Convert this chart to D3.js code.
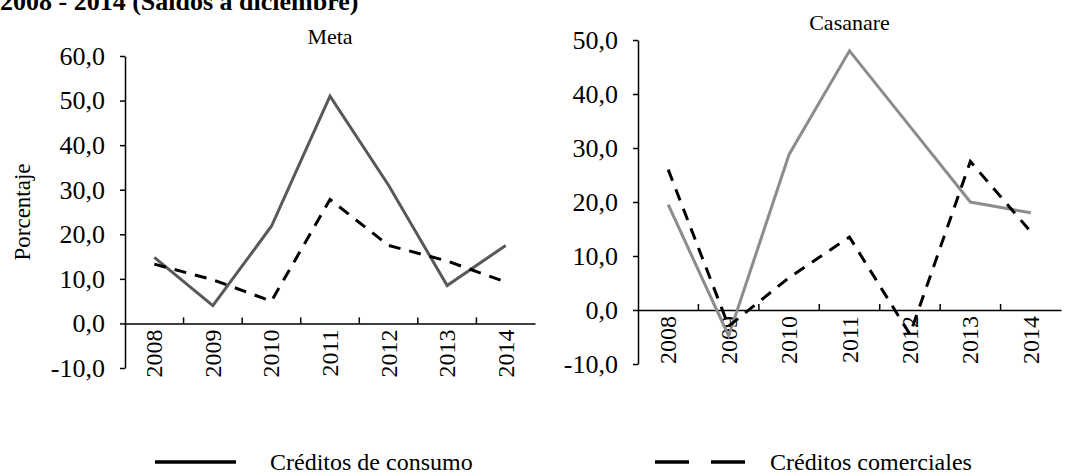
<!DOCTYPE html>
<html><head><meta charset="utf-8">
<script src="https://cdn.jsdelivr.net/npm/d3@7"></script>
<style>body{margin:0;background:#fff}svg text{font-family:"Liberation Serif","Times New Roman",serif !important;fill:#000}</style>
</head><body><svg id="c" width="1067" height="476"></svg>
<script>
const years = ["2008","2009","2010","2011","2012","2013","2014"];
const metaConsumo = [14.8, 4.0, 21.8, 51.0, 31.0, 8.5, 17.5];
const metaComercial = [13.3, 9.8, 5.0, 27.8, 17.5, 14.0, 9.3];
const casConsumo = [19.5, -4.8, 28.8, 48.0, 34.0, 20.0, 18.0];
const casComercial = [26.0, -3.0, 6.0, 13.5, -4.5, 27.5, 14.5];
const metaTicks = [-10, 0, 10, 20, 30, 40, 50, 60];
const casTicks = [-10, 0, 10, 20, 30, 40, 50];

const svg = d3.select("#c");
const fmt = d => d3.format(".1f")(d).replace(".", ",").replace("−", "-");

svg.append("text").attr("x", 0).attr("y", 10).style("font-size", "26px").style("font-weight", "bold")
  .text("2008 - 2014 (Saldos a diciembre)");

function panel(title, x0, x1, yTop, yBot, ticks, cons, comm, consColor, titleY) {
  const x = d3.scaleBand().domain(years).range([x0, x1]);
  const y = d3.scaleLinear().domain([ticks[0], ticks[ticks.length - 1]]).range([yBot, yTop]);
  const ya = svg.append("g").attr("transform", `translate(${x0},0)`)
    .call(d3.axisLeft(y).tickValues(ticks).tickFormat(fmt).tickSize(5).tickSizeOuter(0));
  ya.attr("font-family", null).attr("font-size", null);
  ya.select(".domain").attr("stroke", "#000").attr("stroke-width", 1.5);
  ya.selectAll(".tick line").attr("stroke", "#000").attr("stroke-width", 1.5);
  ya.selectAll(".tick text").style("font-size", "26px").attr("x", -20);
  const xa = svg.append("g").attr("transform", `translate(0,${y(0)})`)
    .call(d3.axisTop(x).tickSize(0).tickSizeOuter(0));
  xa.select(".domain").attr("stroke", "#000").attr("stroke-width", 1.5);
  xa.selectAll(".tick").remove();
  svg.append("g").selectAll("line").data(years.slice(1)).join("line")
    .attr("x1", d => x(d)).attr("x2", d => x(d)).attr("y1", y(0)).attr("y2", y(0) - 6)
    .attr("stroke", "#000").attr("stroke-width", 1.5);
  svg.append("g").selectAll("text").data(years).join("text")
    .attr("transform", d => `translate(${x(d) + x.bandwidth() / 2 + 8},${y(0) + 6}) rotate(-90)`)
    .attr("text-anchor", "end").style("font-size", "24px").text(d => d);
  const line = d3.line().x((d, i) => x(years[i]) + x.bandwidth() / 2).y(d => y(d));
  svg.append("path").datum(cons).attr("d", line).attr("fill", "none")
    .attr("stroke", consColor).attr("stroke-width", 3);
  svg.append("path").datum(comm).attr("d", line).attr("fill", "none")
    .attr("stroke", "#000").attr("stroke-width", 3).attr("stroke-dasharray", "12,9");
  svg.append("text").attr("x", (x0 + x1) / 2).attr("y", titleY).attr("text-anchor", "middle")
    .style("font-size", "22px").text(title);
}

panel("Meta", 125, 535, 56, 368, metaTicks, metaConsumo, metaComercial, "#595959", 44);
panel("Casanare", 638, 1061, 40, 364, casTicks, casConsumo, casComercial, "#8c8c8c", 30);

svg.append("text").attr("transform", "translate(30,212) rotate(-90)").attr("text-anchor", "middle")
  .style("font-size", "23px").text("Porcentaje");

const legend = [{name: "Créditos de consumo", x1: 155, x2: 236, tx: 270, dash: null},
                {name: "Créditos comerciales", x1: 655, x2: 746, tx: 770, dash: "34,22"}];
const lg = svg.append("g").selectAll("g").data(legend).join("g");
lg.append("line").attr("x1", d => d.x1).attr("x2", d => d.x2).attr("y1", 462).attr("y2", 462)
  .attr("stroke", "#000").attr("stroke-width", 3.5).attr("stroke-dasharray", d => d.dash);
lg.append("text").attr("x", d => d.tx).attr("y", 470).style("font-size", "24px").text(d => d.name);
</script></body></html>
